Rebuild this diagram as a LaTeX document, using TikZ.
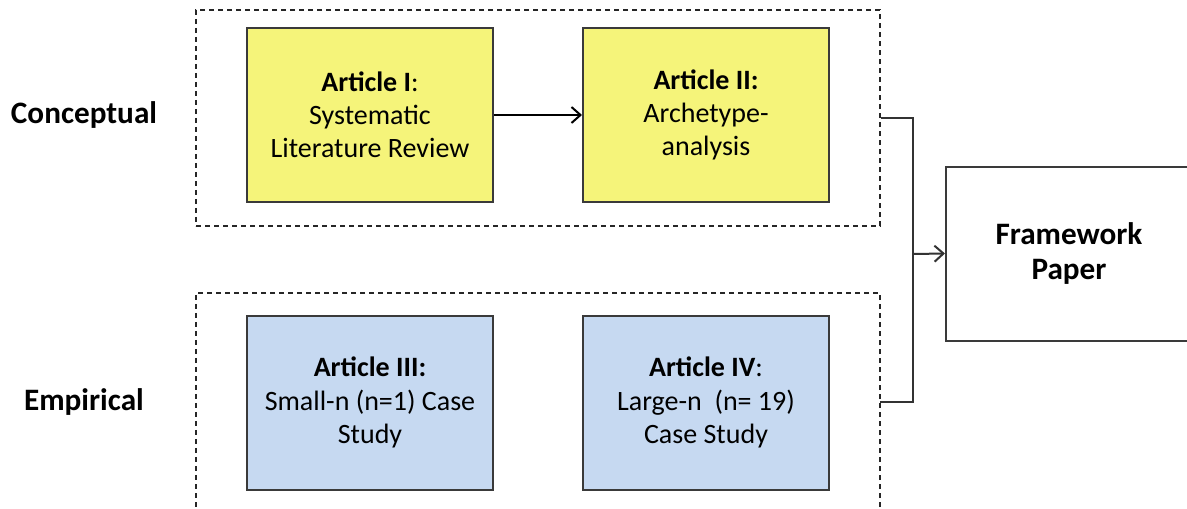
\documentclass[tikz,border=0pt]{standalone}
\usepackage{fontspec}
\setmainfont{Carlito}
\usetikzlibrary{arrows.meta}
\definecolor{boxyellow}{HTML}{F5F47A}
\definecolor{boxblue}{HTML}{C6D9F1}
\definecolor{edgegray}{HTML}{3A3A3A}
\tikzset{
  article/.style={draw=edgegray, line width=1pt, minimum width=123pt, minimum height=87pt,
    inner sep=0pt, align=center, font=\fontsize{14}{16.6}\selectfont},
  group/.style={draw=black!85, line width=0.75pt, dash pattern=on 2.6pt off 1.9pt,
    minimum width=342pt, inner sep=0pt},
  rowlabel/.style={font=\fontsize{15.6}{18}\selectfont\bfseries},
  link/.style={line width=1pt, draw=black!80},
  tip/.style={-{Straight Barb[length=4.5pt,width=8pt,line width=1pt]}}
}
\begin{document}
\begin{tikzpicture}[x=0.5pt,y=-0.5pt]
  \useasboundingbox (0,0) rectangle (1187,508);
  \clip (0,0) rectangle (1187,508);

  % dashed groups (the lower one runs past the bottom edge)
  \node[group, minimum height=108pt] (conc) at (538,118) {};
  \node[group, minimum height=116pt] (emp) at (538,409) {};
  \coordinate (empout) at (880,402);

  % row labels
  \node[rowlabel] (lconc) at (84,115) {Conceptual};
  \node[rowlabel] (lemp) at (84,402) {Empirical};

  % articles
  \node[article, fill=boxyellow] (a1) at (370,115)
    {\textbf{Article I}:\\Systematic\\Literature Review};
  \node[article, fill=boxyellow] (a2) at (706,115)
    {\textbf{Article II:}\\Archetype-\\analysis};
  \node[article, fill=boxblue] (a3) at (370,402.5)
    {\textbf{Article III:}\\Small-n (n=1) Case\\Study};
  \node[article, fill=boxblue] (a4) at (706,402.5)
    {\textbf{Article IV}:\\Large-n\ \ (n= 19)\\Case Study};

  % framework paper
  \node[article, fill=white, font=\fontsize{15.6}{17.5}\selectfont\bfseries] (fw) at (1069,253.5)
    {Framework\\Paper};

  % connectors
  \draw[link, line width=1.4pt, draw=black, tip] (a1) -- (a2);
  \coordinate (j) at (913,254);
  \draw[link] (conc.east) -| (j) |- (empout);
  \draw[link, tip] (j) -- (fw.west);
\end{tikzpicture}
\end{document}
